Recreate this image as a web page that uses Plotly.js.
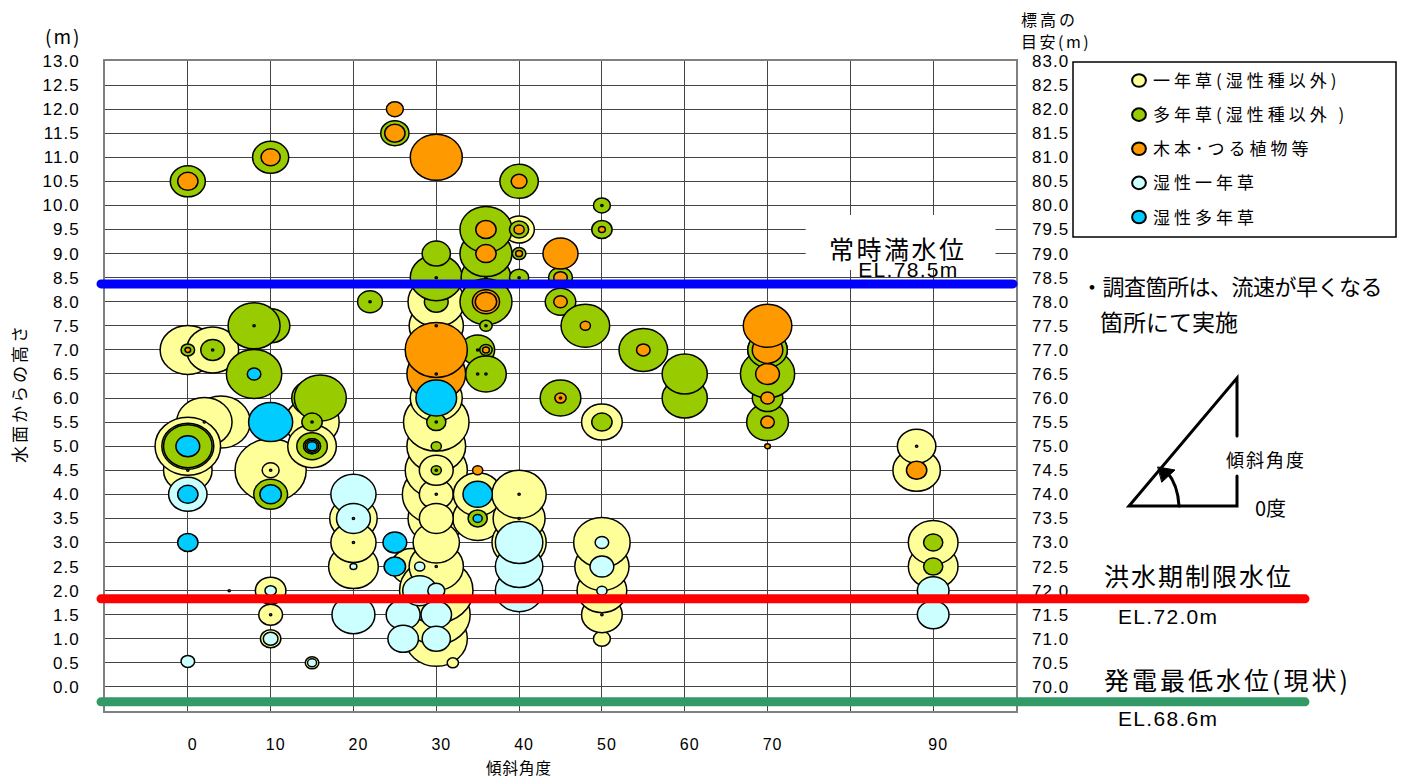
<!DOCTYPE html>
<html lang="ja">
<head>
<meta charset="utf-8">
<script src="https://cdn.plot.ly/plotly-3.0.1.min.js"></script>
<style>
html,body{margin:0;padding:0;background:#fff}
#chart{width:1408px;height:778px}
.xtick text,.ytick text,.y2tick text{letter-spacing:1px}
.legendtext{letter-spacing:4px}
.shapelayer path{stroke-linecap:round}
</style>
</head>
<body>
<div id="chart"></div>
<script>
const FONT = '"Noto Sans CJK JP","Liberation Sans",sans-serif';
const NUMFONT = '"Liberation Sans",Arial,sans-serif';

const seriesNames = ['一年草(湿性種以外)','多年草(湿性種以外 )','木本･つる植物等','湿性一年草','湿性多年草'];
const seriesColors = ['#FFFF99','#99CC00','#FF9900','#CCFFFF','#00CCFF'];

const annualX = [0,0,3,4,2,0,10,10,15,15, 20,20,20,27,30,30,30,30,30,30, 30,30,30,30,30,30,30,30,32,35, 35,40,40,40,40,50,50,50,50,50, 50,88,88,90,90,10,10,10,15,30, 30, 0,2,5,10,10,20,30,40,40,50,88,30];
const annualY = [4.5,7,7,5.5,5.5,5,4.5,1,5.5,5, 2.5,3.5,3,2.5,1,1.5,2,2.5,3.5,4, 4.5,5,5.5,6,7.5,8,3,4,0.5,3.5, 4,3,3.5,4,9.5,5.5,1,1.5,2,2.5, 3,4.5,5,2.5,3,2,1.5,4.5,0.5,3.5, 4.5, 4.5,5.5,2,4.5,1.5,3,2.5,4,3.5,1.5,5,4];
const annualH = [43,49,46,52,49,58,63,18,48,43, 44,42,40,36,55,60,65,48,50,60, 55,52,58,46,48,50,41,30,10,44, 43,48,46,48,27,36,15,36,44,48, 50,42,34,44,44,27,21,15,12,30, 30, 2,2,2,2,2,2,2,2,2,2,2,2];

const perennialX = [0,10,8,10,8,15,15,16,0,0, 10,0,3,15,15,15,22,25,30,30, 30,30,30,30,35,36,36,36,36,36, 36,36,40,40,40,40,45,45,45,48, 50,50,50,55,60,60,70,70,70,70, 70,90,90, 8,36,35,36,36,30,30,3,15,35,40,22,50,30,35];
const perennialY = [10.5,11,6.5,7.5,7.5,5,6,6,5,5, 4,7,7,5.5,5,5,8,11.5,5,5.5, 8,8.5,9,4.5,7,6.5,8.5,8,7,7.5, 9,9.5,10.5,9.5,9,8.5,6,8,8.5,7.5, 5.5,9.5,10,7,6,6.5,5.5,6,7,6.5, 7,2.5,3, 7.5,6.5,6.5,7.5,8.5,8.5,5.5,7,5.5,7,8.5,8,10,4.5,3.5];
const perennialH = [31,32,49,34,46,27,36,46,46,43, 30,12,21,18,15,15,22,25,9,17, 21,46,25,9,30,36,44,46,11,11, 46,46,34,17,12,17,36,27,21,43, 18,18,15,43,40,40,37,27,35,48, 35,17,17, 2,2,2,2,2,2,2,2,2,2,2,2,2,2,17];

const woodyX = [0,10,25,25,30,40,36,36,40,40, 45,45,45,45,48,50,55,30,30,36, 36,36,35,70,70,70,70,70,70,88, 30,30,0,15,45];
const woodyY = [10.5,11,12,11.5,11,10.5,9,9.5,9.5,9, 9,8.5,8,6,7.5,9.5,7,6.5,7,8, 8,7,4.5,5.5,6,6.5,7,7.5,5,4.5, 7.5,6.5,7,5,6];
const woodyH = [18,17,15,18,46,14,18,18,9,6, 31,12,12,10,9,6,12,52,55,24, 19,6,9,12,12,21,27,43,5,18, 2,2,5,12,2];

const wetAnnualX = [0,0,10,10,15,20,20,20,26,26, 28,30,30,20,28,30,40,40,40,50, 50,50,90,90,20];
const wetAnnualY = [0.53,4,2,1,0.5,4,3.5,1.5,1.5,1, 2,1.5,1,2.5,2.5,2,2,2.5,3,3, 2.5,2,2,1.5,3.5];
const wetAnnualH = [12,34,10,13,8,40,30,38,30,27, 30,27,25,6,9,15,42,42,42,12, 21,9,28,28,2];

const wetPerennialX = [0,0,0,8,10,10,15,25,25,30,35,35];
const wetPerennialY = [3,4,5,6.5,5.5,4,5,3,2.5,6,4,3.5];
const wetPerennialH = [18,18,21,12,39,19,9,21,19,36,26,8];

const xTickVals = [0,10,20,30,40,50,60,70,80,90];
const xTickText = ['0','10','20','30','40','50','60','70','','90'];
const leftTicks = [0,0.5,1,1.5,2,2.5,3,3.5,4,4.5,5,5.5,6,6.5,7,7.5,8,8.5,9,9.5,10,10.5,11,11.5,12,12.5,13];
const rightTicks = [70,70.5,71,71.5,72,72.5,73,73.5,74,74.5,75,75.5,76,76.5,77,77.5,78,78.5,79,79.5,80,80.5,81,81.5,82,82.5,83];

const levelNames = ['常時満水位','洪水期制限水位','発電最低水位(現状)'];
const levelColors = ['#0000FF','#FF0000','#339966'];
const levelEL = [78.37,71.83,69.69];
const levelEndPx = [1013,1305,1305];

const W=1408,H=778,L=105,R=1016,T=61,B=711;
const px=v=>(v-L)/(R-L), py=v=>(B-v)/(B-T);

const bubbleSets=[[annualX,annualY,annualH],[perennialX,perennialY,perennialH],[woodyX,woodyY,woodyH],[wetAnnualX,wetAnnualY,wetAnnualH],[wetPerennialX,wetPerennialY,wetPerennialH]];
const traces=bubbleSets.map((s,i)=>({
  type:'scatter',mode:'markers',name:seriesNames[i],x:s[0],y:s[1],legendgroup:'g'+i,cliponaxis:false,hoverinfo:'x+y',
  marker:{size:s[2],color:seriesColors[i],line:{color:'#000',width:1.5},opacity:1}
}));
traces.push({type:'scatter',mode:'markers',name:'標高',showlegend:false,yaxis:'y2',hoverinfo:'skip',x:[0,0,0],y:levelEL,marker:{opacity:0}});

function note(text,x,y,size,o){
  return Object.assign({text:text,xref:'paper',yref:'paper',x:px(x),y:py(y),xanchor:'left',yanchor:'middle',showarrow:false,
    font:{family:FONT,size:size,color:'#000'},borderpad:0},o||{});
}
const sp=(t,n)=>'<span style="letter-spacing:'+n+'px">'+t+'</span>';
const numFont=s=>({font:{family:NUMFONT,size:s,color:'#000'}});
const annotations=[
  note(sp('(m)',2),44,36,19),
  note(sp('標高の',3),1020,19,16),
  note(sp('目安(m)',2.5),1020,41,16),
  note(sp('水面からの高さ',3),18,393,17,{textangle:-90,xanchor:'center'}),
  note(sp('傾斜角度',1),519,767,15.5,{xanchor:'center'}),
  note('<span style="font-size:25px;letter-spacing:2.5px">'+levelNames[0]+'</span><br><span style="font-size:21px;letter-spacing:1.3px;font-family:Liberation Sans">&nbsp;&nbsp;&nbsp;EL.78.5m</span>',898,255,14,{xanchor:'center',align:'center'}),
  note(sp(levelNames[1],2),1103,575,25),
  note(sp('EL.72.0m',1.3),1117,616,21,numFont(21)),
  note(sp(levelNames[2],3),1103,679,25),
  note(sp('EL.68.6m',1.3),1117,718,21,numFont(21)),
  note(sp('・調査箇所は、流速が早くなる',-0.5),1080,285,22),
  note(sp('箇所にて実施',0),1099,321,23),
  note(sp('傾斜角度',2),1225,459,18),
  note('0度',1254,507,20)
];

const path=pts=>pts.map((p,i)=>(i?'L':'M')+px(p[0])+','+py(p[1])).join(' ');
const blk={color:'#000',width:3};
const d2x=v=>(v-187.5)/8.29, d2y=v=>(687-v)/48.15;
const shapes=[
  {type:'rect',xref:'x',yref:'y',layer:'between',x0:d2x(806),x1:d2x(996),y0:d2y(270),y1:d2y(215),fillcolor:'#fff',line:{width:0}},
  {type:'rect',xref:'paper',yref:'paper',x0:px(1073),x1:px(1396),y0:py(237),y1:py(62),fillcolor:'rgba(255,255,255,0)',line:{color:'#000',width:1.5}},
  {type:'path',xref:'paper',yref:'paper',path:path([[1237,436],[1237,378],[1129,506],[1237,506],[1237,476]]),line:blk},
  {type:'path',xref:'paper',yref:'paper',path:'M'+px(1179)+','+py(506)+' Q'+px(1178)+','+py(485)+' '+px(1167)+','+py(472),line:blk},
  {type:'path',xref:'paper',yref:'paper',path:path([[1158,467],[1175,470],[1162,482]])+' Z',fillcolor:'#000',line:{color:'#000',width:1}}
];
levelEL.forEach((v,i)=>shapes.push({type:'line',xref:'paper',yref:'y2',x0:px(101),x1:px(levelEndPx[i]),y0:v,y1:v,layer:'above',line:{color:levelColors[i],width:9}}));

const layout={
  width:W,height:H,margin:{l:L,r:W-R,t:T,b:H-B,pad:0},paper_bgcolor:'#fff',plot_bgcolor:'#fff',
  font:{family:FONT,color:'#000'},hovermode:'closest',
  xaxis:{range:[-10,100],tickvals:xTickVals,ticktext:xTickText,showgrid:true,gridcolor:'#444',gridwidth:1,zeroline:false,
    showline:true,mirror:true,linecolor:'#808080',linewidth:2,ticks:'',ticklabelstandoff:18,ticklabelshift:5,tickfont:{family:NUMFONT,size:16,color:'#000'},layer:'below traces',automargin:false},
  yaxis:{range:[-0.5,13],tickvals:leftTicks,tickformat:'.1f',showgrid:true,gridcolor:'#444',gridwidth:1,zeroline:false,
    showline:true,mirror:true,linecolor:'#808080',linewidth:2,ticks:'',ticklabelstandoff:20,tickfont:{family:NUMFONT,size:17,color:'#000'},layer:'below traces',automargin:false},
  yaxis2:{range:[69.5,83],overlaying:'y',side:'right',tickvals:rightTicks,tickformat:'.1f',showgrid:false,zeroline:false,ticks:'',ticklabelstandoff:15,
    tickfont:{family:NUMFONT,size:17,color:'#000'},layer:'below traces',automargin:false},
  legend:{x:px(1113),y:py(63),xanchor:'left',yanchor:'top',bgcolor:'rgba(0,0,0,0)',borderwidth:0,traceorder:'grouped',tracegroupgap:9,itemsizing:'constant',itemclick:false,itemdoubleclick:false,
    font:{family:FONT,size:17,color:'#000'}},
  annotations:annotations,shapes:shapes,showlegend:true
};

Plotly.newPlot('chart',traces,layout,{displayModeBar:false}).then(gd=>{
  gd.querySelectorAll('.subplot.xy .scatterlayer .point').forEach(p=>{
    p.setAttribute('transform',p.getAttribute('transform')+' scale(1.13,1)');
    p.style.vectorEffect='non-scaling-stroke';
  });
  gd.querySelectorAll('.legend .legendpoints path.scatterpts').forEach(p=>{
    p.setAttribute('transform','translate(26,0) scale(1.15,1.05)');
    p.style.vectorEffect='non-scaling-stroke';
  });
});
</script>
</body>
</html>
